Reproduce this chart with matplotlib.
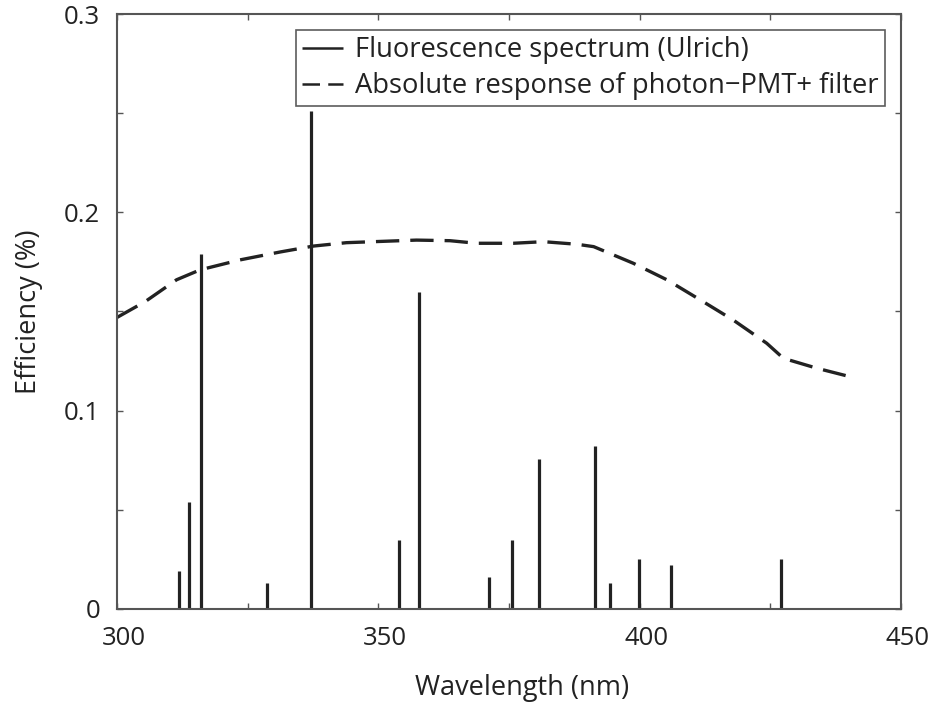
import matplotlib
matplotlib.use("Agg")
import matplotlib.pyplot as plt
from matplotlib.ticker import MultipleLocator, FixedLocator
from matplotlib.transforms import ScaledTranslation

plt.rcParams['font.family'] = ['Open Sans', 'DejaVu Sans']

# Fluorescence spectrum lines (Ulrich)
line_wl = [311.9, 313.8, 316.0, 328.7, 337.2, 353.9, 357.8, 371.1, 375.6,
           380.7, 391.4, 394.3, 399.9, 406.0, 427.0]
line_eff = [0.019, 0.054, 0.179, 0.013, 0.251, 0.035, 0.160, 0.016, 0.035,
            0.0755, 0.082, 0.013, 0.0254, 0.0222, 0.0254]

# Absolute response of photon-PMT + filter
resp_wl = [300, 305.4, 311.4, 315.9, 323.5, 331.2, 337.6, 343.9, 357.3, 363.7,
           368.8, 375.8, 381.6, 388.0, 391.2, 398.8, 405.2, 411.5, 417.9, 424.3,
           427.5, 433.9, 440.3]
resp_eff = [0.147, 0.155, 0.166, 0.171, 0.176, 0.180, 0.183, 0.1847, 0.186, 0.1857,
            0.1844, 0.1844, 0.1852, 0.1839, 0.1827, 0.1743, 0.166, 0.156, 0.1457, 0.134,
            0.1264, 0.1214, 0.1171]

x_ticks = [300, 350, 400, 450]
y_ticks = [0, 0.1, 0.2, 0.3]
y_tick_labels = ['0', '0.1', '0.2', '0.3']

fig = plt.figure(figsize=(9.32, 7.03), dpi=100)
ax = fig.add_axes([117/932, 1-609/703, 784/932, 595/703])

c = '#222222'
ax.vlines(line_wl, 0, line_eff, colors=c, lw=2.3, label='Fluorescence spectrum (Ulrich)')
ax.plot(resp_wl, resp_eff, color=c, lw=2.4, linestyle=(0, (7, 3.3)),
        label='Absolute response of photon\u2212PMT+ filter')

ax.set_xlim(300, 450)
ax.set_ylim(0, 0.3)
ax.xaxis.set_major_locator(FixedLocator(x_ticks))
ax.xaxis.set_minor_locator(MultipleLocator(25))
ax.yaxis.set_major_locator(FixedLocator(y_ticks))
ax.set_yticklabels(y_tick_labels)
ax.yaxis.set_minor_locator(MultipleLocator(0.05))
ax.tick_params(which='both', direction='in', top=True, right=True, length=4,
               width=1, color='#555555', labelsize=18.5, labelcolor='#222222')
ax.tick_params(axis='x', pad=12)
ax.tick_params(axis='y', pad=12)
for s in ax.spines.values():
    s.set_color('#555555')
    s.set_linewidth(1.5)

shift = ScaledTranslation(7/100, 0, fig.dpi_scale_trans)
for lbl in ax.get_xticklabels():
    lbl.set_transform(lbl.get_transform() + shift)

ax.set_xlabel('Wavelength (nm)', fontsize=19.5, color='#222222', labelpad=17)
ax.xaxis.label.set_x((522 - 117) / 784)
ax.set_ylabel('Efficiency (%)', fontsize=19.5, color='#222222', labelpad=15)

leg = ax.legend(loc='upper right', bbox_to_anchor=(0.9796, 0.973), fontsize=19.7,
                frameon=True, fancybox=False, edgecolor='#333333',
                handlelength=1.5, handletextpad=0.47, borderpad=0.22,
                labelspacing=0.3, borderaxespad=0)
leg.get_frame().set_linewidth(1.2)
for t in leg.get_texts():
    t.set_color('#222222')
for h in leg.legend_handles:
    try:
        h.set_linewidth(1.8)
    except Exception:
        pass

fig.savefig('out.png', dpi=100)
